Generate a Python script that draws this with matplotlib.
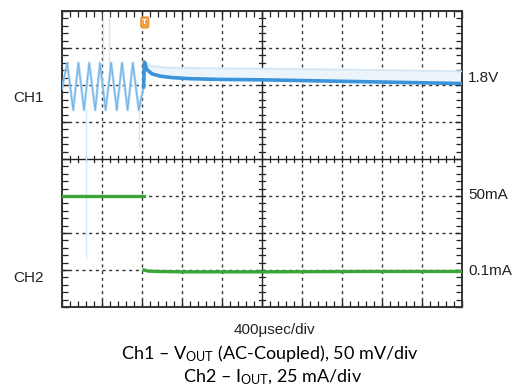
import matplotlib
matplotlib.use("Agg")
import matplotlib.pyplot as plt
import numpy as np
from matplotlib.patches import FancyBboxPatch

plt.rcParams['mathtext.fontset'] = 'custom'
plt.rcParams['mathtext.rm'] = 'Lato'
plt.rcParams['mathtext.it'] = 'Lato:italic'

# Scope screen: 10 horizontal divisions x 8 vertical divisions
# CH1 - VOUT (AC-coupled), in divisions
ch1_osc_x = [0.00, 0.13, 0.28, 0.41, 0.55, 0.68, 0.83, 0.95, 1.09, 1.23,
             1.37, 1.50, 1.64, 1.77, 1.92, 2.04]
ch1_osc_y = [1.90, 2.60, 1.32, 2.60, 1.32, 2.60, 1.32, 2.60, 1.32, 2.60,
             1.32, 2.60, 1.32, 2.60, 1.32, 1.95]
ch1_main_x = [2.04, 2.06, 2.12, 2.25, 2.45, 2.75, 3.20, 4.00, 5.00, 6.50, 8.00, 10.00]
ch1_main_y = [1.95, 2.62, 2.42, 2.30, 2.24, 2.20, 2.17, 2.15, 2.14, 2.11, 2.08, 2.04]
ch1_faint_x = [2.06, 2.20, 2.60, 3.00, 5.00, 7.50, 10.00]
ch1_faint_y = [2.62, 2.52, 2.47, 2.46, 2.44, 2.41, 2.37]

# CH2 - IOUT, in divisions (before and after the load step)
ch2_pre_x = [0.00, 2.04]
ch2_pre_y = [-0.99, -0.99]
ch2_post_x = [2.05, 2.15, 2.40, 3.00, 5.00, 7.50, 10.00]
ch2_post_y = [-3.00, -3.03, -3.04, -3.05, -3.05, -3.04, -3.04]

# Short glitch spikes on CH1 (x, y_low, y_high)
spike_x = [0.60, 1.02, 1.17, 1.93]
spike_lo = [-2.68, 2.49, 2.49, 0.32]
spike_hi = [1.32, 3.95, 3.95, 1.60]

trigger_x = 2.07
right_labels = ["1.8V", "50mA", "0.1mA"]
right_label_y = [2.18, -0.98, -3.02]
left_labels = ["CH1", "CH2"]
left_label_y = [1.65, -3.22]
timebase = "400\u03bcsec/div"
caption1 = "Ch1 \u2013 V$_{\\mathrm{OUT}}$ (AC-Coupled), 50 mV/div"
caption2 = "Ch2 \u2013 I$_{\\mathrm{OUT}}$, 25 mA/div"

fig = plt.figure(figsize=(5.25, 3.92), dpi=100)
ax = fig.add_axes([62/525, 1 - 307/392, 400/525, 296/392])
ax.set_xlim(0, 10)
ax.set_ylim(-4, 4)

grid_kw = dict(color='#333333', lw=1.0, dashes=(2.2, 2.6))
for gx in range(1, 10):
    if gx != 5:
        ax.axvline(gx, **grid_kw, zorder=1)
for gy in range(-3, 4):
    if gy != 0:
        ax.axhline(gy, **grid_kw, zorder=1)
ax.axvline(5, color='#222222', lw=1.0, zorder=1)
ax.axhline(0, color='#222222', lw=1.0, zorder=1)

# centre-line graticule ticks
for t in np.arange(0.2, 10, 0.2):
    ax.plot([t, t], [-0.08, 0.08], color='#222222', lw=0.9, zorder=1)
for t in np.arange(-3.8, 4, 0.2):
    ax.plot([4.925, 5.075], [t, t], color='#222222', lw=0.9, zorder=1)

# frame ticks
ax.set_xticks(np.arange(0, 11, 1))
ax.set_yticks(np.arange(-4, 5, 1))
ax.set_xticks(np.arange(0, 10.01, 0.2), minor=True)
ax.set_yticks(np.arange(-4, 4.01, 0.2), minor=True)
ax.tick_params(which='both', direction='in', top=True, right=True,
               labelbottom=False, labelleft=False, color='#222222')
ax.tick_params(which='major', length=5, width=1.0)
ax.tick_params(which='minor', length=4, width=0.9)
for s in ax.spines.values():
    s.set_color('#333333')
    s.set_linewidth(1.4)

# spikes
for sx, lo, hi in zip(spike_x, spike_lo, spike_hi):
    ax.plot([sx, sx], [lo, hi], color='#d6eaf8', lw=1.0, zorder=2)

# CH1 traces
ax.plot(ch1_osc_x, ch1_osc_y, color='#9fcdf0', lw=1.8, alpha=0.9, zorder=3)
ax.plot(ch1_osc_x, ch1_osc_y, color='#6ab0e6', lw=0.6, zorder=3)
faint_interp = np.interp(ch1_main_x, ch1_faint_x, ch1_faint_y)
ax.fill_between(ch1_main_x, ch1_main_y, faint_interp, color='#edf5fc', zorder=2, lw=0)
ax.plot(ch1_faint_x, ch1_faint_y, color='#d3e7f7', lw=1.4, zorder=3)
ax.plot(ch1_main_x, ch1_main_y, color='#3b93da', lw=2.6, zorder=4)

# CH2 trace
ax.plot(ch2_pre_x, ch2_pre_y, color='#3aa63a', lw=2.4, zorder=4)
ax.plot(ch2_post_x, ch2_post_y, color='#3aa63a', lw=2.4, zorder=4)

# trigger marker
trig = FancyBboxPatch((trigger_x - 0.09, 3.55), 0.18, 0.28,
                      boxstyle="round,pad=0.01,rounding_size=0.05",
                      fc='#f0a040', ec='#e89030', lw=0.8, zorder=6, clip_on=False)
ax.add_patch(trig)
ax.text(trigger_x, 3.69, "T", color='white', fontsize=5, ha='center', va='center',
        fontweight='bold', zorder=7)

# channel labels
for lab, y in zip(right_labels, right_label_y):
    ax.text(10.15, y, lab, fontsize=11, family='Liberation Sans', color='#222222',
            va='center', ha='left', clip_on=False)
for lab, y in zip(left_labels, left_label_y):
    ax.text(-1.23, y, lab, fontsize=11, family='Liberation Sans', color='#222222',
            va='center', ha='left', clip_on=False)

fig.text(274/525, 1 - 330/392, timebase, fontsize=11, family='Liberation Sans',
         color='#222222', ha='center', va='center')
fig.text(270/525, 1 - 353/392, caption1, fontsize=13, family='Lato',
         color='black', ha='center', va='center')
fig.text(273/525, 1 - 377/392, caption2, fontsize=13, family='Lato',
         color='black', ha='center', va='center')

fig.savefig("out.png", dpi=100)
